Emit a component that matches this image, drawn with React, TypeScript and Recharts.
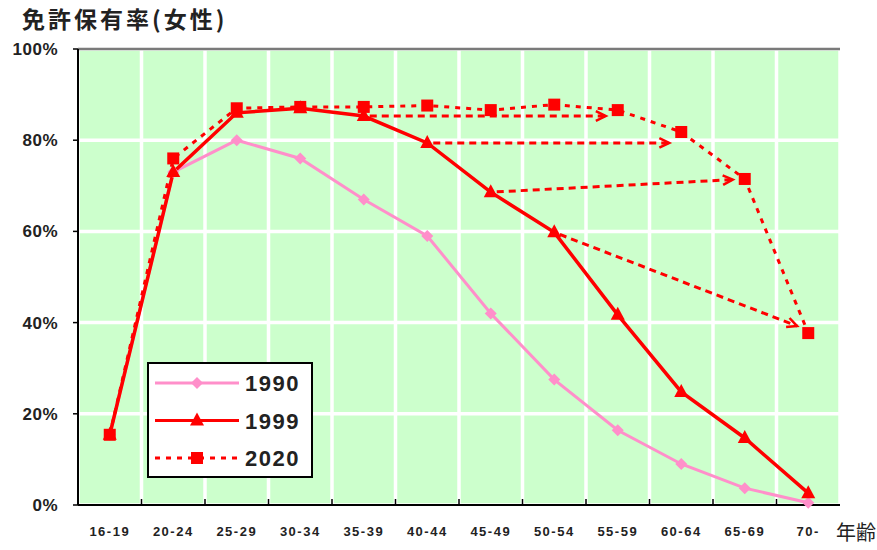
import React from 'react';
import { LineChart, Line, XAxis, YAxis, CartesianGrid, ReferenceLine, Legend, Customized } from 'recharts';

const ageGroups = ['16-19', '20-24', '25-29', '30-34', '35-39', '40-44', '45-49', '50-54', '55-59', '60-64', '65-69', '70-'];
const rate1990 = [15.4, 73, 80, 76, 67, 59, 42, 27.5, 16.4, 9, 3.7, 0.5];
const rate1999 = [15.4, 73, 86, 87, 85.3, 79.4, 68.6, 59.8, 41.7, 24.8, 14.7, 2.6];
const rate2020 = [15.4, 76, 87, 87.3, 87.3, 87.6, 86.6, 87.8, 86.6, 81.8, 71.5, 37.7];
const yTicks = [0, 20, 40, 60, 80, 100];
const seriesNames = ['1990', '1999', '2020'];

// 1999 -> 2020 (same cohort, 20 years later)
const arrowFrom = ['35-39', '40-44', '45-49', '50-54'];
const arrowTo = ['55-59', '60-64', '65-69', '70-'];
const arrowFromValue = [85.3, 79.4, 68.6, 59.8];
const arrowToValue = [85.3, 79.4, 71.5, 38.3];

const data = ageGroups.map((age, i) => ({
  age,
  r1990: rate1990[i],
  r1999: rate1999[i],
  r2020: rate2020[i],
}));

const PINK = '#ff8fca';
const RED = '#ff0000';
const TEXT = '#222222';
const CHART_W = 877;
const CHART_H = 550;
const MARGIN = { top: 49, right: 37, bottom: 0, left: 8 };
const Y_AXIS_W = 70;
const X_AXIS_H = 45;
const PLOT_LEFT = MARGIN.left + Y_AXIS_W;
const PLOT_W = CHART_W - MARGIN.left - MARGIN.right - Y_AXIS_W;
const PLOT_BOTTOM = CHART_H - MARGIN.bottom - X_AXIS_H;

const Diamond = (props: any) => {
  const { cx, cy, key } = props;
  if (cx == null || cy == null) return <g key={key} />;
  return <path key={key} d={`M${cx},${cy - 6}L${cx + 6},${cy}L${cx},${cy + 6}L${cx - 6},${cy}Z`} fill={PINK} />;
};

const Triangle = (props: any) => {
  const { cx, cy, key } = props;
  if (cx == null || cy == null) return <g key={key} />;
  return <path key={key} d={`M${cx},${cy - 8}L${cx + 7},${cy + 5}L${cx - 7},${cy + 5}Z`} fill={RED} />;
};

const Square = (props: any) => {
  const { cx, cy, key } = props;
  if (cx == null || cy == null) return <g key={key} />;
  return <rect key={key} x={cx - 6} y={cy - 6} width={12} height={12} fill={RED} />;
};

const Arrow = (props: any) => {
  const { x1, y1, x2, y2 } = props;
  if (x1 == null || x2 == null) return <g />;
  const ang = Math.atan2(y2 - y1, x2 - x1);
  const len = Math.hypot(x2 - x1, y2 - y1) - 12;
  const ex = x1 + Math.cos(ang) * len;
  const ey = y1 + Math.sin(ang) * len;
  const h = 11;
  const a1 = ang + Math.PI - 0.45;
  const a2 = ang + Math.PI + 0.45;
  return (
    <g>
      <line x1={x1 + Math.cos(ang) * 6} y1={y1 + Math.sin(ang) * 6} x2={ex} y2={ey} stroke={RED} strokeWidth={3} strokeDasharray="7 5" />
      <polyline
        points={`${ex + Math.cos(a1) * h},${ey + Math.sin(a1) * h} ${ex},${ey} ${ex + Math.cos(a2) * h},${ey + Math.sin(a2) * h}`}
        fill="none"
        stroke={RED}
        strokeWidth={2.5}
      />
    </g>
  );
};

const AgeTick = (props: any) => {
  const { x, y, payload } = props;
  return (
    <text
      x={x}
      y={y}
      dy="0.71em"
      textAnchor="middle"
      fontSize={13}
      fontWeight="bold"
      fill={TEXT}
      fontFamily="Liberation Sans, Arial, sans-serif"
      letterSpacing={1.5}
    >
      {payload?.value}
    </text>
  );
};

// vertical grid on the band edges (between categories)
const bandEdgeCoords = (args: any) => {
  const { xAxis, offset } = args || {};
  const s = xAxis?.scale;
  const n = ageGroups.length;
  try {
    const f = typeof s === 'function' ? s : typeof s?.map === 'function' ? (v: string) => s.map(v) : null;
    const bw = typeof s?.bandwidth === 'function' ? s.bandwidth() : 0;
    if (f && bw > 0) {
      const edges = ageGroups.map((a) => f(a));
      edges.push(f(ageGroups[n - 1]) + bw);
      if (edges.every((e) => typeof e === 'number' && !isNaN(e))) return edges;
    }
  } catch (e) {
    // fall through
  }
  return Array.from({ length: n + 1 }, (_, i) => offset.left + (offset.width * i) / n);
};

const LegendBox = () => {
  const colors = [PINK, RED, RED];
  const dashes = [undefined, undefined, '5 6'];
  const markers = [Diamond, Triangle, Square];
  return (
    <svg width={166} height={116} style={{ display: 'block' }}>
      <rect x={1} y={1} width={164} height={114} fill="#fff" stroke="#000" strokeWidth={2} />
      {seriesNames.map((name, i) => {
        const cy = 21 + i * 37.5;
        const M = markers[i];
        return (
          <g key={name}>
            <line x1={8} x2={92} y1={cy} y2={cy} stroke={colors[i]} strokeWidth={3} strokeDasharray={dashes[i]} />
            {M({ cx: 50, cy })}
            <text x={98} y={cy + 8} fontSize={22} fontWeight="bold" fill={TEXT} fontFamily="Liberation Sans, Arial, sans-serif" letterSpacing={1.5}>
              {name}
            </text>
          </g>
        );
      })}
    </svg>
  );
};

// title, axis name and the inward tick marks on the category edges
const Decorations = () => {
  const n = ageGroups.length;
  const edges = Array.from({ length: n - 1 }, (_, i) => PLOT_LEFT + (PLOT_W * (i + 1)) / n);
  return (
    <g>
      {edges.map((ex) => (
        <line key={ex} x1={ex} x2={ex} y1={PLOT_BOTTOM} y2={PLOT_BOTTOM - 6} stroke="#000" strokeWidth={1.5} />
      ))}
      <text x={22} y={28} fontSize={23} fontWeight="bold" fill={TEXT} fontFamily="Noto Sans CJK JP, sans-serif" letterSpacing={3}>
        免許保有率(女性)
      </text>
      <text x={836} y={540} fontSize={20} fill={TEXT} fontFamily="Noto Sans CJK JP, sans-serif">
        年齢
      </text>
    </g>
  );
};

export default function App() {
  return (
    <div style={{ position: 'absolute', left: 0, top: 0, width: CHART_W, height: CHART_H, background: '#fff' }}>
      <LineChart width={CHART_W} height={CHART_H} data={data} margin={MARGIN}>
        <CartesianGrid
          fill="#ccffcc"
          stroke="#ffffff"
          strokeWidth={3.5}
          horizontalValues={yTicks}
          verticalCoordinatesGenerator={bandEdgeCoords}
        />
        <XAxis
          dataKey="age"
          scale="band"
          axisLine={{ stroke: '#000', strokeWidth: 2 }}
          tickLine={false}
          tickSize={6}
          tickMargin={16}
          height={X_AXIS_H}
          interval={0}
          tick={AgeTick}
        />
        <YAxis
          domain={[0, 100]}
          ticks={yTicks}
          width={Y_AXIS_W}
          tickFormatter={(v: number) => `${v}%`}
          axisLine={{ stroke: '#000', strokeWidth: 2 }}
          tickLine={{ stroke: '#000', strokeWidth: 1.5 }}
          tickSize={5}
          tickMargin={15}
          tick={{ fontSize: 17, fontWeight: 'bold', fill: TEXT, fontFamily: 'Liberation Sans, Arial, sans-serif', letterSpacing: 0.5 }}
        />
        <YAxis
          yAxisId="frame"
          orientation="right"
          width={0}
          domain={[0, 100]}
          tick={false}
          tickLine={false}
          axisLine={{ stroke: '#7a7a7a', strokeWidth: 2.5 }}
        />
        <ReferenceLine y={100} stroke="#7a7a7a" strokeWidth={2.5} />
        {arrowFrom.map((from, i) => (
          <ReferenceLine
            key={from}
            segment={[{ x: from, y: arrowFromValue[i] }, { x: arrowTo[i], y: arrowToValue[i] }]}
            shape={Arrow}
          />
        ))}
        <Line dataKey="r1990" name="1990" stroke={PINK} strokeWidth={3} dot={Diamond} isAnimationActive={false} />
        <Line dataKey="r1999" name="1999" stroke={RED} strokeWidth={3.5} dot={Triangle} isAnimationActive={false} />
        <Line dataKey="r2020" name="2020" stroke={RED} strokeWidth={3} strokeDasharray="5 6" dot={Square} isAnimationActive={false} />
        <Legend
          layout="horizontal"
          verticalAlign="middle"
          align="center"
          wrapperStyle={{ left: 147, top: 362, width: 166, height: 116 }}
          content={() => <LegendBox />}
        />
        <Customized component={Decorations} />
      </LineChart>
    </div>
  );
}
